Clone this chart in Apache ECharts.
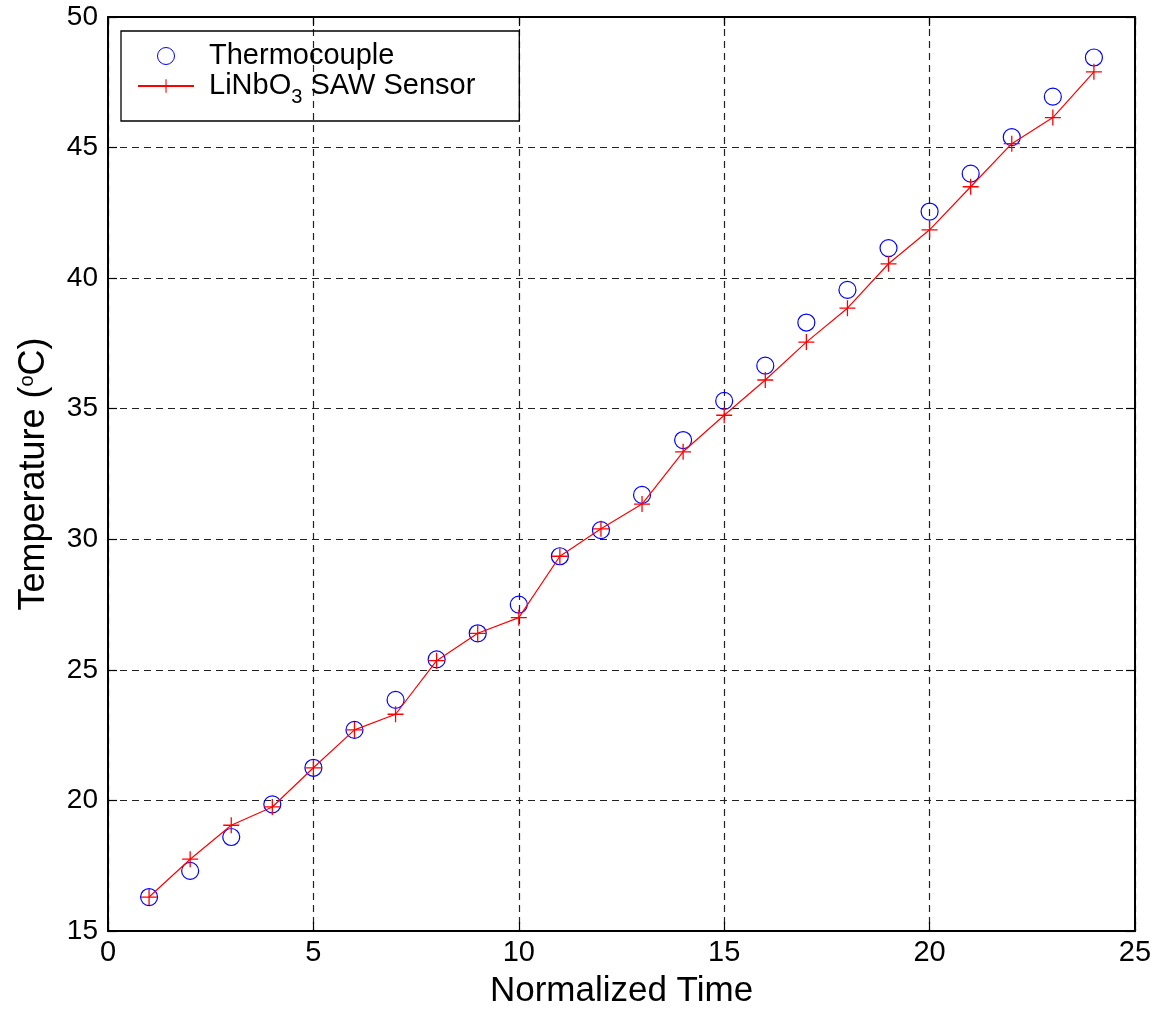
<!DOCTYPE html>
<html>
<head>
<meta charset="utf-8">
<script src="https://cdn.jsdelivr.net/npm/echarts@6/dist/echarts.min.js"></script>
<style>
  html, body { margin: 0; padding: 0; background: #fff; }
  #chart { width: 1156px; height: 1014px; }
</style>
</head>
<body>
<div id="chart"></div>
<script>
// normalized time steps
var times = [1, 2, 3, 4, 5, 6, 7, 8, 9, 10, 11, 12, 13, 14, 15, 16, 17, 18, 19, 20, 21, 22, 23, 24]

// thermocouple readings (deg C)
var thermocouple = [16.3, 17.3, 18.6, 19.85, 21.25, 22.7, 23.85, 25.4, 26.4, 27.5, 29.35, 30.35,
    31.7, 33.8, 35.3, 36.65, 38.3, 39.55, 41.15, 42.55, 44.0, 45.4, 46.95, 48.45]

// LiNbO3 SAW sensor readings (deg C)
var sawSensor = [16.3, 17.75, 19.05, 19.75, 21.25, 22.7, 23.3, 25.35, 26.4, 27.0, 29.35, 30.4,
    31.35, 33.35, 34.75, 36.1, 37.55, 38.85, 40.55, 41.85, 43.5, 45.15, 46.15, 47.9]

var xTicks = [0, 5, 10, 15, 20, 25]
var yTicks = [15, 20, 25, 30, 35, 40, 45, 50]

var FONT = 'Liberation Sans, Arial, sans-serif'
var plusPath = 'path://M0,4.6H10V5.4H0Z M4.6,0H5.4V10H4.6Z'

function pairs(ys) {
    return times.map(function (t, i) { return [t, ys[i]] })
}

var chart = echarts.init(document.getElementById('chart'))

var gridLine = { show: true, lineStyle: { color: '#222', type: [7, 5], width: 1.2 } }
var axisLine = { show: true, onZero: false, lineStyle: { color: '#000', width: 2 } }
var axisTick = { show: true, inside: true, length: 9, lineStyle: { color: '#000', width: 1.2 } }
var circleStyle = { color: 'rgba(255,255,255,0)', borderColor: '#0000ff', borderWidth: 1.2, opacity: 1 }

chart.setOption({
    animation: false,
    backgroundColor: '#fff',
    grid: { left: 108, right: 21, top: 17, bottom: 80, containLabel: false },
    legend: {
        left: 121,
        top: 31,
        orient: 'vertical',
        width: 398,
        padding: [10, 44, 14, 16],
        itemGap: 0,
        itemWidth: 56,
        itemHeight: 17,
        borderColor: '#000',
        borderWidth: 1.3,
        textStyle: {
            fontFamily: FONT,
            fontSize: 29,
            lineHeight: 30,
            color: '#000',
            padding: [0, 0, 0, 10],
            rich: {
                n: { fontFamily: FONT, fontSize: 29, lineHeight: 30, color: '#000' },
                s: { fontFamily: FONT, fontSize: 20, color: '#000', padding: [22, 0, 0, 0] }
            }
        },
        formatter: function (name) {
            if (name === 'saw') return '{n|LiNbO}{s|3}{n| SAW Sensor}'
            return '{n|Thermocouple}'
        },
        data: [{ name: 'thermo', itemStyle: { borderWidth: 1 } }, { name: 'saw' }]
    },
    xAxis: [{
        type: 'value',
        min: 0,
        max: 25,
        interval: 5,
        position: 'bottom',
        name: 'Normalized Time',
        nameLocation: 'middle',
        nameGap: 43,
        nameTextStyle: { fontFamily: FONT, fontSize: 35, color: '#000' },
        axisLine: axisLine,
        axisTick: axisTick,
        axisLabel: {
            fontFamily: FONT, fontSize: 29, color: '#000', margin: 7,
            formatter: function (v) { return xTicks.indexOf(v) >= 0 ? String(v) : '' }
        },
        splitLine: gridLine
    }, {
        type: 'value',
        min: 0,
        max: 25,
        interval: 5,
        position: 'top',
        axisLine: axisLine,
        axisTick: axisTick,
        axisLabel: { show: false },
        splitLine: { show: false }
    }],
    yAxis: [{
        type: 'value',
        min: 15,
        max: 50,
        interval: 5,
        position: 'left',
        name: '{n|Temperature (}{o|o}{n|C)}',
        nameLocation: 'middle',
        nameGap: 56,
        nameTextStyle: {
            fontFamily: FONT, fontSize: 36, color: '#000',
            rich: {
                n: { fontFamily: FONT, fontSize: 36, color: '#000' },
                o: { fontFamily: FONT, fontSize: 20, color: '#000', padding: [0, 0, 14, 0] }
            }
        },
        axisLine: axisLine,
        axisTick: axisTick,
        axisLabel: {
            fontFamily: FONT, fontSize: 28, color: '#000', margin: 10,
            formatter: function (v) { return yTicks.indexOf(v) >= 0 ? String(v) : '' }
        },
        splitLine: gridLine
    }, {
        type: 'value',
        min: 15,
        max: 50,
        interval: 5,
        position: 'right',
        axisLine: axisLine,
        axisTick: axisTick,
        axisLabel: { show: false },
        splitLine: { show: false }
    }],
    series: [{
        name: 'thermo',
        type: 'scatter',
        data: pairs(thermocouple),
        symbol: 'circle',
        symbolSize: 17,
        itemStyle: circleStyle,
        z: 3
    }, {
        name: 'saw',
        type: 'line',
        data: pairs(sawSensor),
        symbol: plusPath,
        symbolSize: 16,
        showAllSymbol: true,
        color: '#ff0000',
        itemStyle: { color: '#ff0000' },
        lineStyle: { color: '#ff0000', width: 1.2 },
        z: 4
    }]
})
</script>
</body>
</html>
